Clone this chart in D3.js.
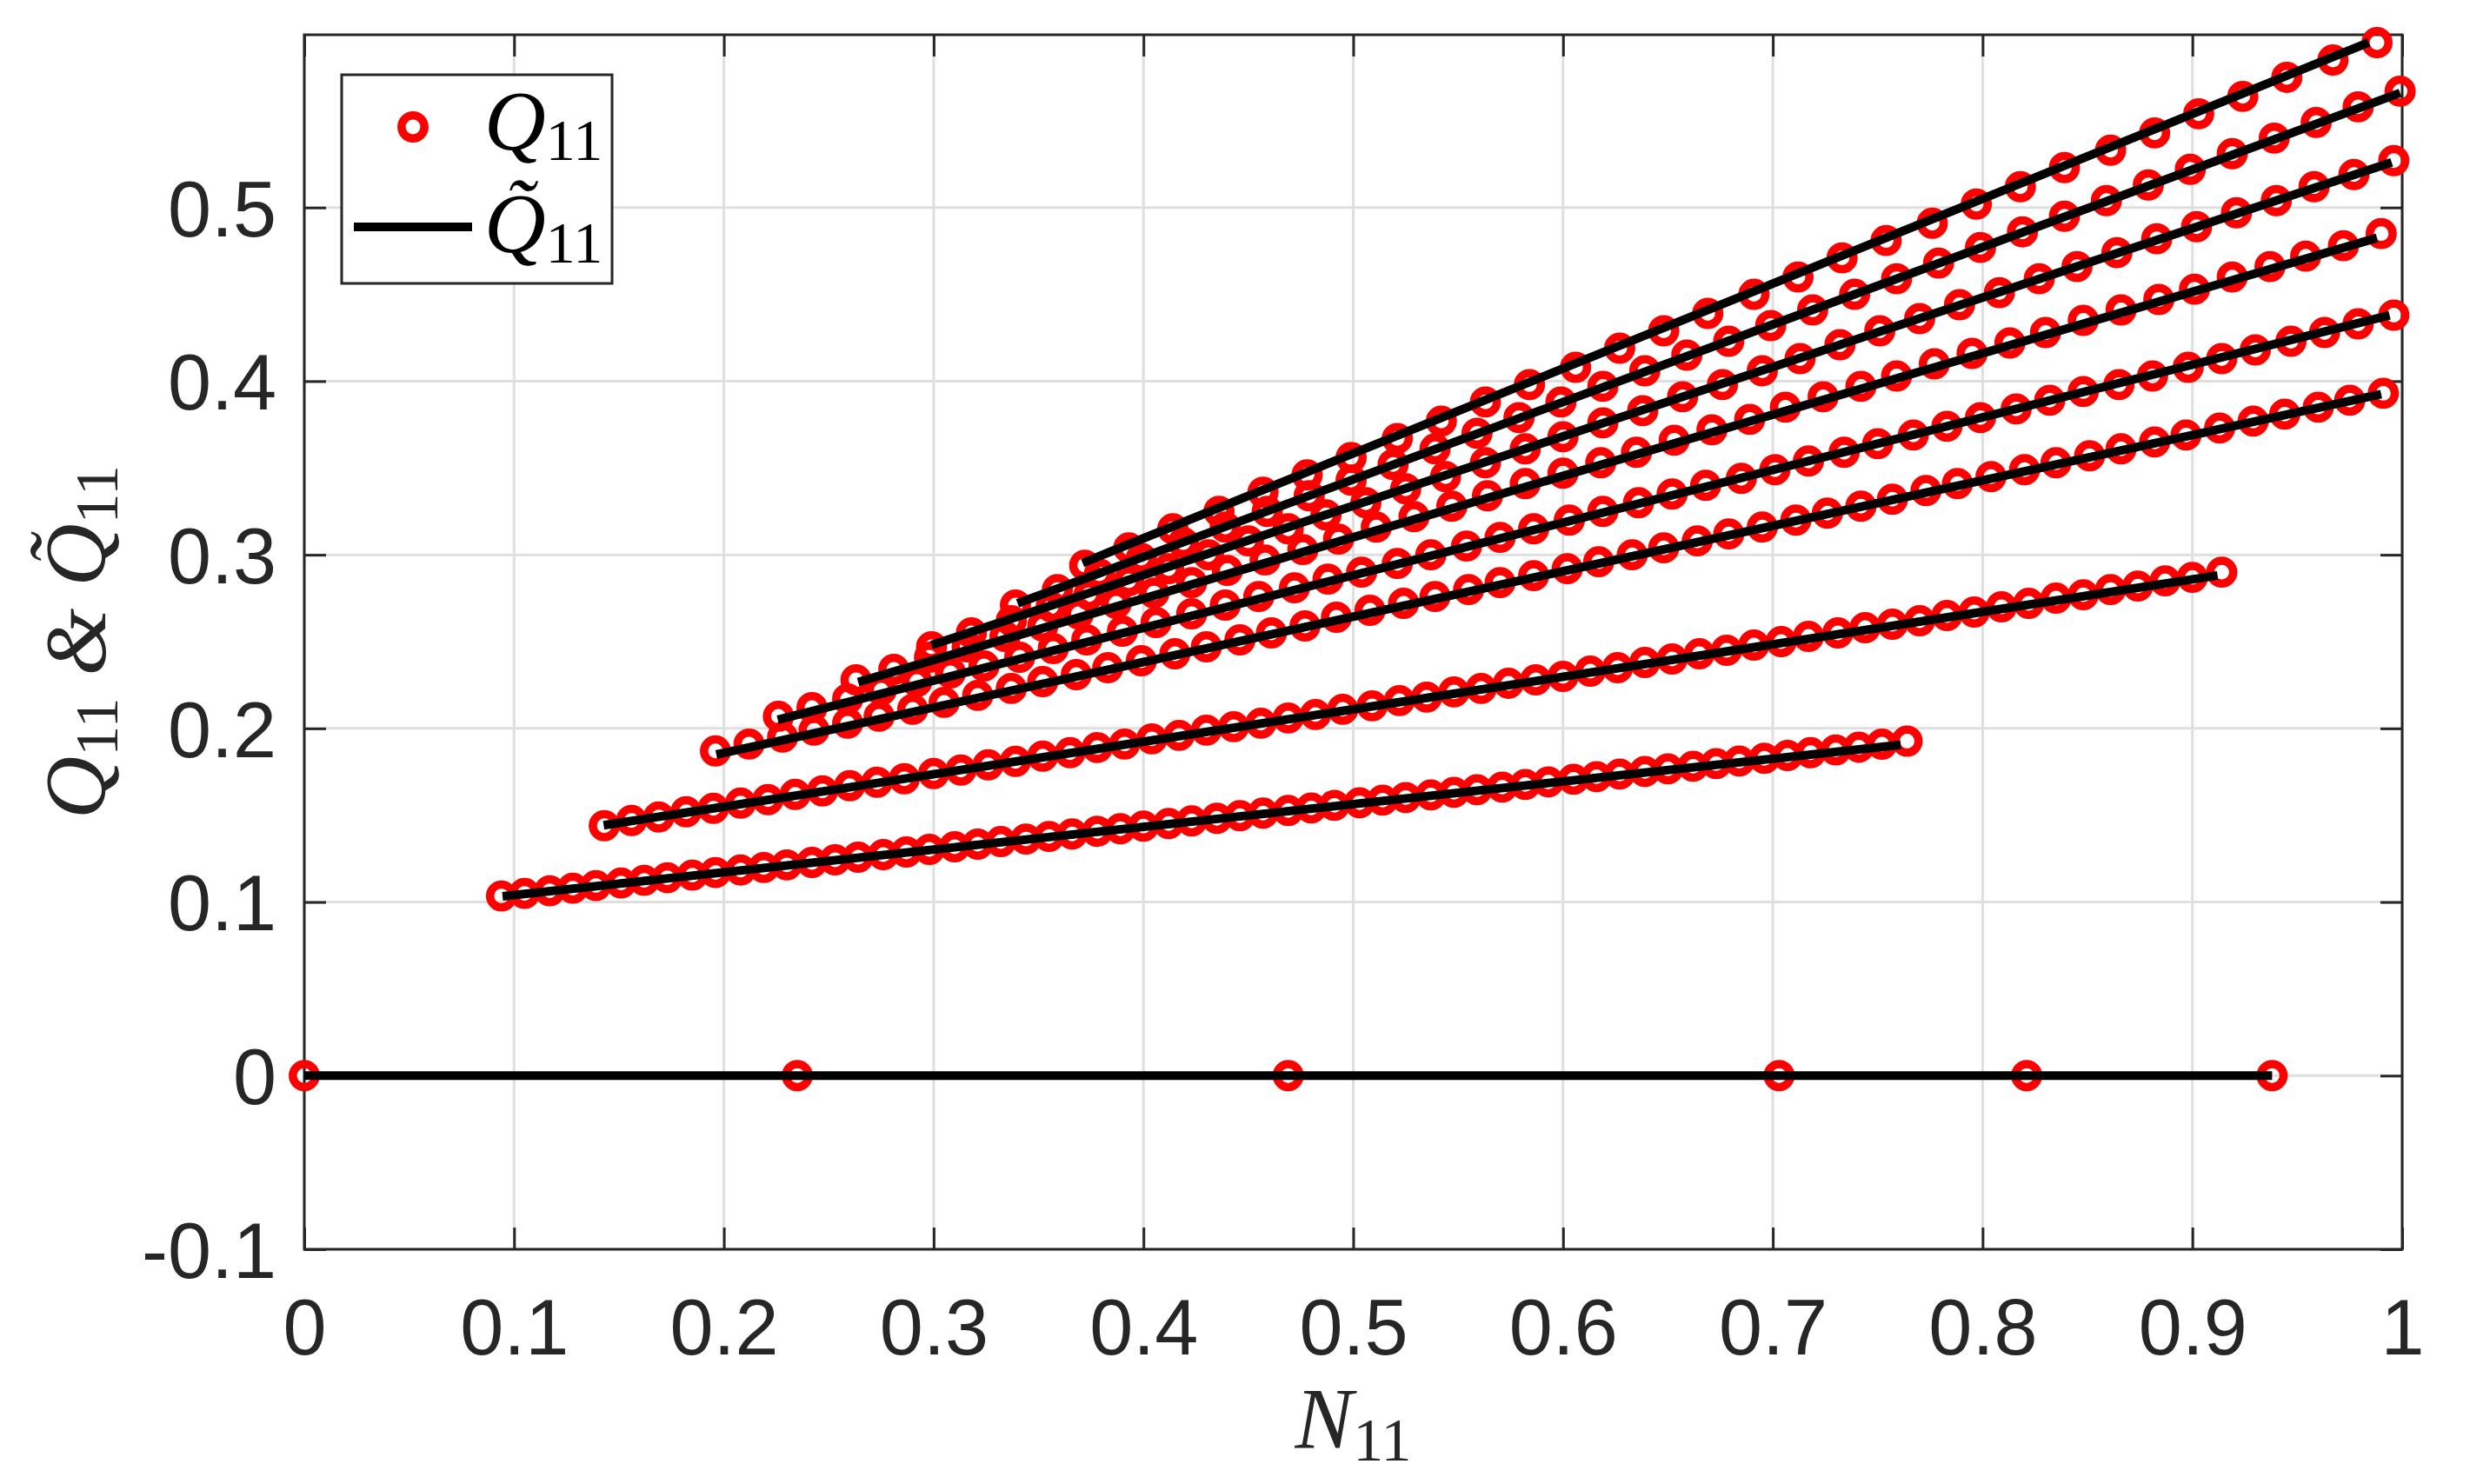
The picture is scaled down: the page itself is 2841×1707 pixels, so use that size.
<!DOCTYPE html>
<html><head><meta charset="utf-8">
<script src="https://cdn.jsdelivr.net/npm/d3@7"></script>
<style>body{margin:0;background:#fff}</style>
</head><body>
<svg id="chart" width="2841" height="1707"></svg>
<script>
// ---- tick values / labels ----
const xTicks = [0,0.1,0.2,0.3,0.4,0.5,0.6,0.7,0.8,0.9,1];
const xTickLabels = ["0","0.1","0.2","0.3","0.4","0.5","0.6","0.7","0.8","0.9","1"];
const yTicks = [-0.1,0,0.1,0.2,0.3,0.4,0.5];
const yTickLabels = ["-0.1","0","0.1","0.2","0.3","0.4","0.5"];

// ---- measured points (N11, Q11) ----
const n0 = [0,0.235,0.469,0.703,0.821,0.938];
const q0 = [0,0,0,0,0,0];
const n1 = [0.094,0.105,0.117,0.128,0.139,0.151,0.162,0.173,0.185,0.196,
0.208,0.219,0.230,0.242,0.253,0.264,0.276,0.287,0.298,0.310,
0.321,0.332,0.344,0.355,0.366,0.378,0.389,0.400,0.412,0.423,
0.435,0.446,0.457,0.469,0.480,0.491,0.503,0.514,0.525,0.537,
0.548,0.559,0.571,0.582,0.593,0.605,0.616,0.627,0.639,0.650,
0.662,0.673,0.684,0.696,0.707,0.718,0.730,0.741,0.752,0.764];
const q1 = [0.1035,0.1050,0.1065,0.1080,0.1095,0.1110,0.1125,0.1140,0.1155,0.1170,
0.1184,0.1199,0.1214,0.1228,0.1243,0.1258,0.1273,0.1288,0.1303,0.1318,
0.1333,0.1348,0.1363,0.1378,0.1392,0.1407,0.1422,0.1437,0.1452,0.1467,
0.1482,0.1497,0.1512,0.1527,0.1542,0.1557,0.1572,0.1587,0.1602,0.1617,
0.1632,0.1647,0.1662,0.1677,0.1692,0.1707,0.1722,0.1737,0.1752,0.1767,
0.1782,0.1797,0.1812,0.1828,0.1844,0.1860,0.1876,0.1892,0.1909,0.1927];
const n2 = [0.143,0.156,0.169,0.182,0.195,0.208,0.221,0.234,0.247,0.260,
0.273,0.286,0.300,0.313,0.326,0.339,0.352,0.365,0.378,0.391,
0.404,0.417,0.430,0.443,0.456,0.469,0.482,0.495,0.509,0.522,
0.535,0.548,0.561,0.574,0.587,0.600,0.613,0.626,0.639,0.652,
0.665,0.678,0.691,0.704,0.717,0.731,0.744,0.757,0.770,0.783,
0.796,0.809,0.822,0.835,0.848,0.861,0.874,0.887,0.900,0.914];
const q2 = [0.144,0.147,0.149,0.152,0.154,0.157,0.159,0.162,0.164,0.167,
0.169,0.171,0.174,0.176,0.179,0.181,0.184,0.186,0.189,0.191,
0.194,0.196,0.199,0.201,0.203,0.206,0.208,0.211,0.213,0.216,
0.218,0.221,0.223,0.226,0.228,0.230,0.233,0.235,0.238,0.240,
0.243,0.245,0.248,0.250,0.253,0.255,0.258,0.260,0.262,0.265,
0.267,0.270,0.272,0.275,0.277,0.280,0.282,0.285,0.287,0.290];
const n3 = [0.196,0.212,0.228,0.243,0.259,0.274,0.290,0.305,0.321,0.337,
0.352,0.368,0.383,0.399,0.415,0.430,0.446,0.461,0.477,0.492,
0.508,0.524,0.539,0.555,0.570,0.586,0.602,0.617,0.633,0.648,
0.664,0.679,0.695,0.711,0.726,0.742,0.757,0.773,0.788,0.804,
0.820,0.835,0.851,0.866,0.882,0.897,0.913,0.929,0.944,0.960,
0.975,0.991];
const q3 = [0.187,0.191,0.195,0.199,0.203,0.207,0.211,0.215,0.219,0.223,
0.227,0.231,0.235,0.239,0.243,0.247,0.251,0.255,0.259,0.264,
0.268,0.272,0.276,0.280,0.284,0.288,0.292,0.296,0.300,0.304,
0.308,0.312,0.316,0.320,0.324,0.328,0.332,0.337,0.341,0.345,
0.349,0.353,0.357,0.361,0.365,0.369,0.373,0.377,0.381,0.385,
0.389,0.393];
const n4 = [0.226,0.242,0.259,0.275,0.292,0.308,0.324,0.341,0.357,0.373,
0.390,0.406,0.423,0.439,0.455,0.472,0.488,0.504,0.521,0.537,
0.554,0.570,0.586,0.603,0.619,0.636,0.652,0.668,0.685,0.701,
0.717,0.734,0.750,0.767,0.783,0.799,0.816,0.832,0.848,0.865,
0.881,0.898,0.914,0.930,0.947,0.963,0.979,0.996];
const q4 = [0.207,0.212,0.217,0.222,0.227,0.232,0.236,0.241,0.246,0.251,
0.256,0.261,0.266,0.271,0.276,0.281,0.286,0.290,0.295,0.300,
0.305,0.310,0.315,0.320,0.325,0.330,0.335,0.340,0.344,0.349,
0.354,0.359,0.364,0.369,0.374,0.379,0.384,0.389,0.394,0.398,
0.403,0.408,0.413,0.418,0.423,0.428,0.433,0.438];
const n5 = [0.263,0.281,0.298,0.316,0.334,0.352,0.369,0.387,0.405,0.423,
0.440,0.458,0.476,0.493,0.511,0.529,0.547,0.564,0.582,0.600,
0.618,0.635,0.653,0.671,0.689,0.706,0.724,0.742,0.759,0.777,
0.795,0.813,0.830,0.848,0.866,0.884,0.901,0.919,0.937,0.954,
0.972,0.990];
const q5 = [0.228,0.234,0.241,0.247,0.253,0.259,0.266,0.272,0.278,0.284,
0.291,0.297,0.303,0.309,0.316,0.322,0.328,0.334,0.341,0.347,
0.353,0.359,0.366,0.372,0.378,0.385,0.391,0.397,0.403,0.410,
0.416,0.422,0.428,0.435,0.441,0.447,0.453,0.460,0.466,0.472,
0.478,0.485];
const n6 = [0.299,0.318,0.337,0.356,0.374,0.393,0.412,0.431,0.450,0.469,
0.487,0.506,0.525,0.544,0.563,0.582,0.600,0.619,0.638,0.657,
0.676,0.695,0.713,0.732,0.751,0.770,0.789,0.808,0.827,0.845,
0.864,0.883,0.902,0.921,0.940,0.958,0.977,0.996];
const q6 = [0.247,0.255,0.262,0.270,0.277,0.285,0.292,0.300,0.308,0.315,
0.323,0.330,0.338,0.345,0.353,0.361,0.368,0.376,0.383,0.391,
0.398,0.406,0.413,0.421,0.429,0.436,0.444,0.451,0.459,0.466,
0.474,0.482,0.489,0.497,0.504,0.512,0.519,0.527];
const n7 = [0.339,0.359,0.379,0.399,0.419,0.439,0.459,0.479,0.499,0.519,
0.539,0.559,0.579,0.599,0.619,0.639,0.659,0.679,0.699,0.719,
0.739,0.759,0.779,0.799,0.819,0.839,0.859,0.879,0.899,0.919,
0.939,0.959,0.979,0.999];
const q7 = [0.271,0.280,0.289,0.298,0.307,0.316,0.325,0.334,0.343,0.352,
0.361,0.370,0.379,0.388,0.397,0.406,0.415,0.423,0.432,0.441,
0.450,0.459,0.468,0.477,0.486,0.495,0.504,0.513,0.522,0.531,
0.540,0.549,0.558,0.567];
const n8 = [0.372,0.393,0.414,0.436,0.457,0.478,0.499,0.521,0.542,0.563,
0.584,0.606,0.627,0.648,0.669,0.691,0.712,0.733,0.754,0.776,
0.797,0.818,0.839,0.861,0.882,0.903,0.924,0.945,0.967,0.988];
const q8 = [0.294,0.304,0.315,0.325,0.336,0.346,0.356,0.367,0.377,0.388,
0.398,0.408,0.419,0.429,0.439,0.450,0.460,0.471,0.481,0.491,
0.502,0.512,0.523,0.533,0.543,0.554,0.564,0.575,0.585,0.595];

// ---- fitted lines (start / end) ----
const fitN = [[0,0.938],[0.0945,0.761],[0.1427,0.912],[0.1964,0.990],[0.2257,0.994],
              [0.264,0.988],[0.299,0.995],[0.340,0.999],[0.371,0.984]];
const fitQ = [[0,0],[0.1033,0.1905],[0.1442,0.2881],[0.185,0.3925],[0.205,0.438],
              [0.2267,0.4825],[0.248,0.526],[0.272,0.566],[0.2953,0.595]];

const pointsN = [n0,n1,n2,n3,n4,n5,n6,n7,n8];
const pointsQ = [q0,q1,q2,q3,q4,q5,q6,q7,q8];

// ---- layout ----
const L = 350, R = 2763, T = 40, B = 1437;
const x = d3.scaleLinear().domain([0,1]).range([L,R]);
const y = d3.scaleLinear().domain([-0.1,0.5995]).range([B,T]);
const axisColor = "#262626";
const tickFont = "'Liberation Sans', Arial, Helvetica, sans-serif";
const mathFont = "'Liberation Serif', 'Times New Roman', serif";

const svg = d3.select("#chart");
svg.append("rect").attr("width",2841).attr("height",1707).attr("fill","#fff");

// grid
const grid = svg.append("g").attr("stroke","#dfdfdf").attr("stroke-width",3);
grid.selectAll("line.gx").data(xTicks).join("line")
  .attr("x1",d=>x(d)).attr("x2",d=>x(d)).attr("y1",T).attr("y2",B);
grid.selectAll("line.gy").data(yTicks).join("line")
  .attr("y1",d=>y(d)).attr("y2",d=>y(d)).attr("x1",L).attr("x2",R);

// axes
function styleAxis(g){
  g.select(".domain").remove();
  g.selectAll(".tick line").attr("stroke",axisColor).attr("stroke-width",3);
  g.selectAll(".tick text").attr("fill",axisColor).attr("font-family",tickFont).attr("font-size",90);
}
svg.append("g").attr("transform",`translate(0,${B})`)
  .call(d3.axisBottom(x).tickValues(xTicks).tickSizeInner(-25).tickSizeOuter(0).tickPadding(57)
        .tickFormat((d,i)=>xTickLabels[i]))
  .call(styleAxis);
svg.append("g").attr("transform",`translate(0,${T})`)
  .call(d3.axisTop(x).tickValues(xTicks).tickSizeInner(-25).tickSizeOuter(0).tickFormat(()=>""))
  .call(styleAxis);
svg.append("g").attr("transform",`translate(${L},0)`)
  .call(d3.axisLeft(y).tickValues(yTicks).tickSizeInner(-25).tickSizeOuter(0).tickPadding(32)
        .tickFormat((d,i)=>yTickLabels[i]))
  .call(styleAxis)
  .selectAll(".tick text").attr("dy","0.36em");
svg.append("g").attr("transform",`translate(${R},0)`)
  .call(d3.axisRight(y).tickValues(yTicks).tickSizeInner(-25).tickSizeOuter(0).tickFormat(()=>""))
  .call(styleAxis);

svg.append("rect").attr("x",L).attr("y",T).attr("width",R-L).attr("height",B-T)
  .attr("fill","none").attr("stroke",axisColor).attr("stroke-width",3);

// data points
const pts = svg.append("g").attr("fill","none").attr("stroke","#ff0000").attr("stroke-width",9.5);
pointsN.forEach((ns,s)=>{
  const data = ns.map((n,i)=>[n,pointsQ[s][i]]);
  pts.append("g").selectAll("circle").data(data).join("circle")
    .attr("cx",d=>x(d[0])).attr("cy",d=>y(d[1])).attr("r",13.2);
});
// fitted lines
const line = d3.line().x(d=>x(d[0])).y(d=>y(d[1]));
const fits = svg.append("g").attr("fill","none").attr("stroke","#000").attr("stroke-width",10);
fitN.forEach((ns,s)=>{
  fits.append("path").attr("d", line(ns.map((n,i)=>[n,fitQ[s][i]])));
});

// axis labels
const xl = svg.append("text").attr("x",(L+R)/2).attr("y",1665).attr("text-anchor","middle")
  .attr("font-family",mathFont).attr("fill",axisColor);
xl.append("tspan").attr("font-style","italic").attr("font-size",100).text("N");
xl.append("tspan").attr("font-size",70).attr("dy",15).text("11");

const yl = svg.append("text").attr("transform",`translate(120,${(T+B)/2}) rotate(-90)`)
  .attr("text-anchor","middle").attr("font-family",mathFont).attr("fill",axisColor);
yl.append("tspan").attr("font-style","italic").attr("font-size",100).text("Q");
yl.append("tspan").attr("font-size",70).attr("dy",15).text("11");
yl.append("tspan").attr("font-style","italic").attr("font-size",100).attr("dy",-15).text(" & Q\u0303");
yl.append("tspan").attr("font-size",70).attr("dy",15).text("11");

// legend
const lg = svg.append("g");
lg.append("rect").attr("x",393).attr("y",86).attr("width",311).attr("height",240)
  .attr("fill","#fff").attr("stroke",axisColor).attr("stroke-width",3);
lg.append("circle").attr("cx",475).attr("cy",146).attr("r",13.2)
  .attr("fill","none").attr("stroke","#ff0000").attr("stroke-width",9.5);
lg.append("line").attr("x1",407).attr("x2",543).attr("y1",261).attr("y2",261)
  .attr("stroke","#000").attr("stroke-width",10);
const t1 = lg.append("text").attr("x",557).attr("y",172).attr("font-family",mathFont).attr("fill","#000");
t1.append("tspan").attr("font-style","italic").attr("font-size",98).text("Q");
t1.append("tspan").attr("font-size",68).attr("dy",12).text("11");
const t2 = lg.append("text").attr("x",557).attr("y",290).attr("font-family",mathFont).attr("fill","#000");
t2.append("tspan").attr("font-style","italic").attr("font-size",98).text("Q\u0303");
t2.append("tspan").attr("font-size",68).attr("dy",12).text("11");
</script>
</body></html>
